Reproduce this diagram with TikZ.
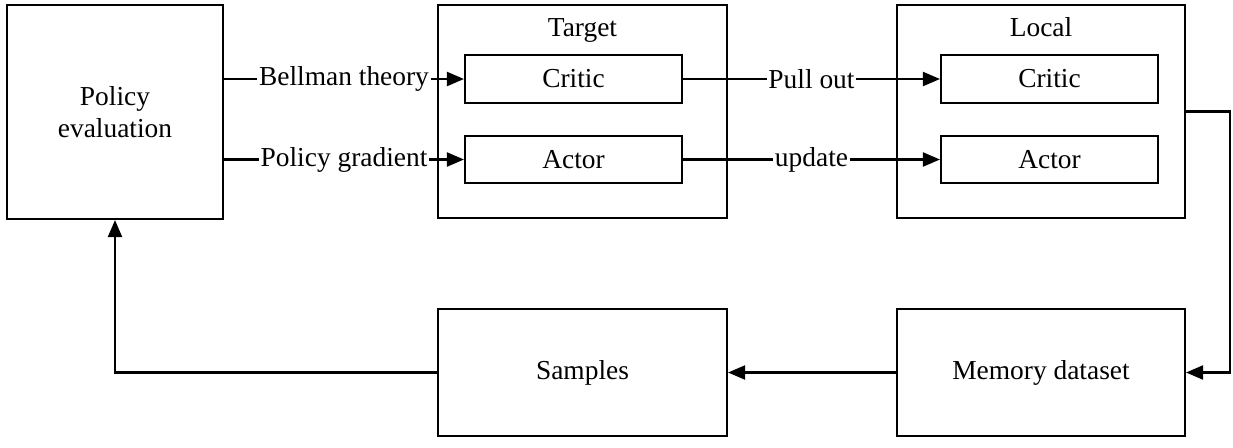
\documentclass[tikz,border=0pt]{standalone}
\usepackage{fontspec}
\setmainfont{Liberation Serif}
\usetikzlibrary{arrows.meta}

\begin{document}
\begin{tikzpicture}
    \tikzset{block/.style = {shape=rectangle,draw,line width=1.2pt,inner sep=0pt,font=\fontsize{15.6}{18}\selectfont}}
    \tikzset{edge/.style = {-{Triangle[length=0.34cm,width=0.28cm]},line width=1.2pt}}
    \tikzset{lbl/.style = {fill=white,inner sep=1pt,font=\fontsize{15.6}{18}\selectfont}}
    \useasboundingbox (0,0) rectangle (24.66,-8.94);
    % blocks
    \node[block,minimum width=4.32cm,minimum height=4.28cm,align=center] (policy) at (2.30,-2.24) {Policy\\evaluation};
    \node[block,minimum width=5.78cm,minimum height=4.26cm] (target) at (11.65,-2.23) {};
    \node[block,minimum width=5.76cm,minimum height=4.26cm] (local) at (20.82,-2.23) {};
    \node[block,draw=none,anchor=base] (targetlbl) at (11.65,-0.72) {Target};
    \node[block,draw=none,anchor=base] (locallbl) at (20.82,-0.72) {Local};
    \node[block,minimum width=4.34cm,minimum height=0.96cm] (tcritic) at (11.47,-1.58) {Critic};
    \node[block,minimum width=4.34cm,minimum height=0.94cm] (tactor) at (11.47,-3.19) {Actor};
    \node[block,minimum width=4.34cm,minimum height=0.96cm] (lcritic) at (20.99,-1.58) {Critic};
    \node[block,minimum width=4.34cm,minimum height=0.94cm] (lactor) at (20.99,-3.19) {Actor};
    \node[block,minimum width=5.78cm,minimum height=2.54cm] (samples) at (11.65,-7.45) {Samples};
    \node[block,minimum width=5.76cm,minimum height=2.54cm] (memory) at (20.82,-7.45) {Memory dataset};
    \coordinate (rturn) at (24.6,-2.23);
    %edges
    \draw[edge] (policy.east |- tcritic) -- node[lbl] {Bellman theory} (tcritic.west);
    \draw[edge] (policy.east |- tactor) -- node[lbl] {Policy gradient} (tactor.west);
    \draw[edge] (tcritic.east) -- node[lbl] {Pull out} (lcritic.west);
    \draw[edge] (tactor.east) -- node[lbl] {update} (lactor.west);
    \draw[edge] (local.east) -- (rturn) |- (memory.east);
    \draw[edge] (memory.west) -- (samples.east);
    \draw[edge] (samples.west) -| (policy.south);
\end{tikzpicture}
\end{document}
